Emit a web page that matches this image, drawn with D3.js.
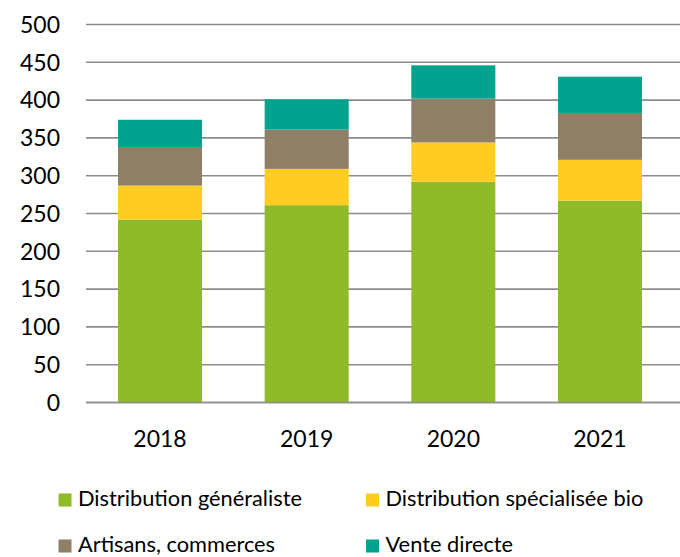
<!DOCTYPE html>
<html><head><meta charset="utf-8">
<script src="https://cdn.jsdelivr.net/npm/d3@7"></script>
<style>body{margin:0;background:#fff}svg{display:block}</style>
</head><body>
<svg id="c" width="680" height="557"></svg>
<script>
const years = ["2018","2019","2020","2021"];
const seriesNames = ["Distribution généraliste","Distribution spécialisée bio","Artisans, commerces","Vente directe"];
const seriesColors = ["#8FBB2A","#FFCD22","#8E7F66","#00A38E"];
const generaliste = [242, 261, 292, 267];
const specialisee = [45, 48, 52, 54];
const artisans = [51, 52, 58, 62];
const venteDirecte = [36, 40, 44, 48];
const yTicks = [0,50,100,150,200,250,300,350,400,450,500];

const svg = d3.select("#c");
const font = "Lato, 'Open Sans', sans-serif";
const x = d3.scaleBand().domain(years).range([86.7, 673.3]).paddingInner(0.427).paddingOuter(0.2135);
const y = d3.scaleLinear().domain([0,500]).range([402.5, 24.5]);

// gridlines
svg.append("g").selectAll("line").data(yTicks).join("line")
  .attr("x1", 86).attr("x2", 680)
  .attr("y1", d => y(d)).attr("y2", d => y(d))
  .attr("stroke", "#8c8c8c").attr("stroke-width", 1.6);

// y labels
svg.append("g").selectAll("text").data(yTicks).join("text")
  .attr("x", 60).attr("y", d => y(d)).attr("dy", "0.36em")
  .attr("text-anchor", "end").attr("font-family", font).attr("font-size", 23)
  .attr("fill", "#000").text(d => d);

// stacked bars
const table = years.map((yr,i) => ({year: yr, s0: generaliste[i], s1: specialisee[i], s2: artisans[i], s3: venteDirecte[i]}));
const stack = d3.stack().keys(["s0","s1","s2","s3"])(table);
svg.append("g").selectAll("g").data(stack).join("g")
  .attr("fill", (d,i) => seriesColors[i])
  .selectAll("rect").data(d => d).join("rect")
  .attr("x", d => x(d.data.year)).attr("width", x.bandwidth())
  .attr("y", d => y(d[1])).attr("height", d => y(d[0]) - y(d[1]));

// axis line on top at 0
svg.append("line").attr("x1", 86).attr("x2", 680).attr("y1", y(0)).attr("y2", y(0))
  .attr("stroke", "#8c8c8c").attr("stroke-width", 1.6);

// x labels
svg.append("g").selectAll("text").data(years).join("text")
  .attr("x", d => x(d) + x.bandwidth()/2).attr("y", 447)
  .attr("text-anchor", "middle").attr("font-family", font).attr("font-size", 23)
  .attr("fill", "#000").text(d => d);

// legend
const legPos = [[58.5, 493.5],[366, 493.5],[58.5, 539.5],[366, 539.5]];
const lg = svg.append("g").selectAll("g").data(seriesNames).join("g")
  .attr("transform", (d,i) => `translate(${legPos[i][0]},${legPos[i][1]})`);
lg.append("rect").attr("width", 13).attr("height", 13).attr("fill", (d,i) => seriesColors[i]);
lg.append("text").attr("x", 19.5).attr("y", 12.5)
  .attr("font-family", font).attr("font-size", 21.8).attr("fill", "#000").text(d => d);
</script>
</body></html>
